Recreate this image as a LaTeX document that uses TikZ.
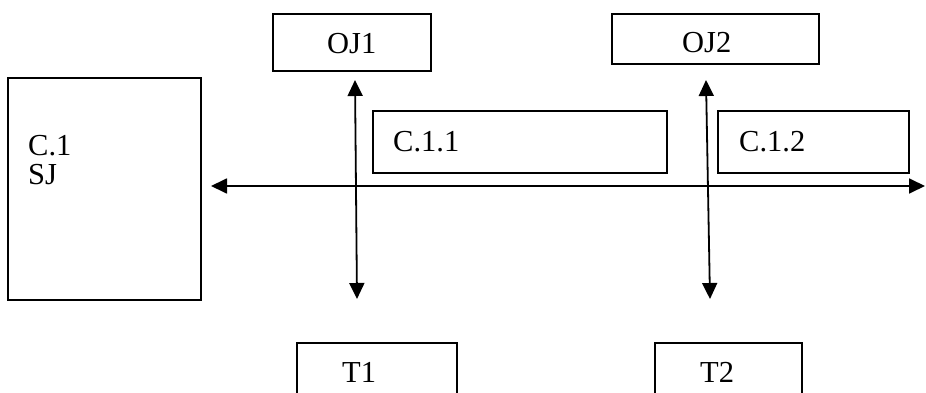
\documentclass[tikz,border=0pt]{standalone}
\usepackage{fontspec}
\setmainfont{Liberation Serif}
\usetikzlibrary{arrows.meta}

\tikzset{
  box/.style={draw=black, line width=1.8pt, rectangle, inner sep=0pt, outer sep=0pt, anchor=north west},
  lbl/.style={inner sep=0pt, anchor=base west, font=\fontsize{30.5}{36}\selectfont},
  link/.style={line width=1.8pt, {Triangle[length=16pt,width=15pt]}-{Triangle[length=16pt,width=15pt]}}
}

\begin{document}
\begin{tikzpicture}[x=1pt, y=-1pt]
  \useasboundingbox (0,0) rectangle (926,393);
  \clip (0,0) rectangle (926,393);

  % boxes
  \node[box, minimum width=193, minimum height=222] (sj)  at (8,78)    {};
  \node[box, minimum width=158, minimum height=57]  (oj1) at (273,14)  {};
  \node[box, minimum width=207, minimum height=50]  (oj2) at (612,14)  {};
  \node[box, minimum width=294, minimum height=62]  (c11) at (373,111) {};
  \node[box, minimum width=191, minimum height=62]  (c12) at (718,111) {};
  \node[box, minimum width=160, minimum height=80]  (t1)  at (297,343) {};
  \node[box, minimum width=147, minimum height=80]  (t2)  at (655,343) {};

  % labels
  \node[lbl] (sjA)  at (28,155)  {C.1};
  \node[lbl] (sjB)  at (28,184)  {SJ};
  \node[lbl] (oj1t) at (327,54)  {OJ1};
  \node[lbl] (oj2t) at (682,53)  {OJ2};
  \node[lbl] (c11t) at (393,151) {C.1.1};
  \node[lbl] (c12t) at (739,151) {C.1.2};
  \node[lbl] (t1t)  at (342,382) {T1};
  \node[lbl] (t2t)  at (700,382) {T2};

  % connector end points
  \coordinate (hL) at (211,186);
  \coordinate (hR) at (925,186);
  \coordinate (v1a) at (355,80);
  \coordinate (v1b) at (357,299);
  \coordinate (v2a) at (706,80);
  \coordinate (v2b) at (710,299);

  % connectors
  \draw[link] (hL) -- (hR);
  \draw[link] (v1a) -- (v1b);
  \draw[link] (v2a) -- (v2b);
\end{tikzpicture}
\end{document}
